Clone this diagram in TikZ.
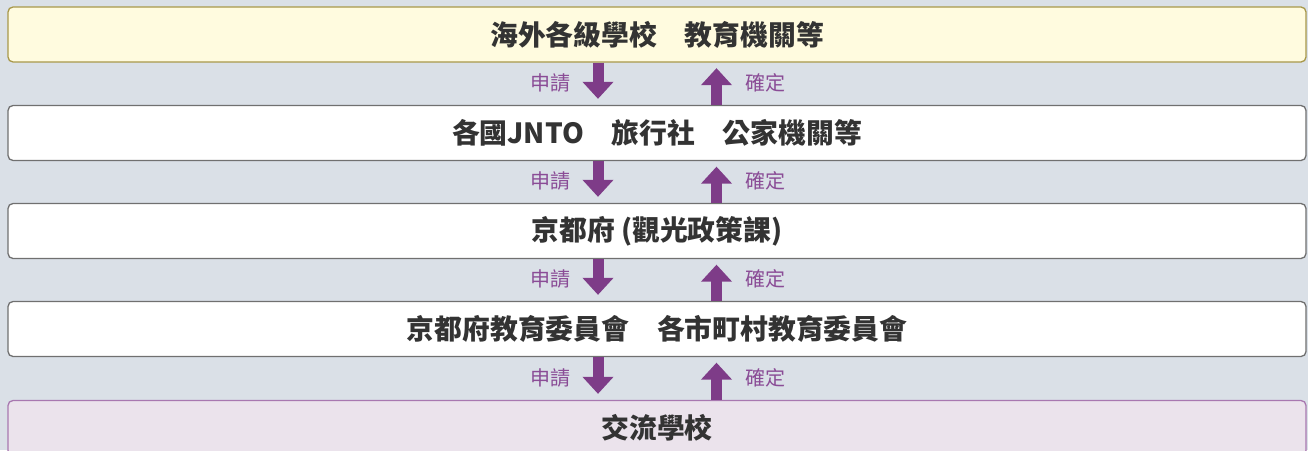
\documentclass[tikz,border=0pt]{standalone}
\usepackage{fontspec}
\newfontfamily\cjk{Noto Sans CJK TC}
\usetikzlibrary{arrows.meta,calc}
\definecolor{bgc}{HTML}{DAE0E7}
\definecolor{topfill}{HTML}{FFFBDF}
\definecolor{topdraw}{HTML}{A8984A}
\definecolor{whdraw}{HTML}{707070}
\definecolor{botfill}{HTML}{EBE3EC}
\definecolor{botdraw}{HTML}{A878B0}
\definecolor{arrc}{HTML}{7E3C88}
\definecolor{labc}{HTML}{8A4C96}
\definecolor{txtc}{HTML}{333333}
\tikzset{
  box/.style={draw=whdraw, fill=white, line width=1.3pt, rounded corners=5pt,
    minimum width=1298pt, minimum height=55pt, inner sep=0pt,
    font=\cjk\bfseries\fontsize{27.8}{32}\selectfont, text=txtc},
  topbox/.style={box, draw=topdraw, fill=topfill},
  botbox/.style={box, draw=botdraw, fill=botfill},
  flow/.style={line width=11pt, draw=arrc, -{Triangle[width=30pt,length=17pt]}},
  lab/.style={font=\cjk\fontsize{20}{23}\selectfont, text=labc, inner sep=0pt}
}
\begin{document}
\begin{tikzpicture}[x=1pt,y=-1pt]
\useasboundingbox (0,0) rectangle (1308,450);
\fill[bgc] (0,0) rectangle (1308,450);
\node[topbox] (b1) at (657,34.5) {海外各級學校　教育機關等};
\node[box] (b2) at (657,133) {各國JNTO　旅行社　公家機關等};
\node[box] (b3) at (657,231) {京都府 (觀光政策課)};
\node[box] (b4) at (657,329) {京都府教育委員會　各市町村教育委員會};
\node[botbox] (b5) at (657,428) {交流學校};
\foreach \a/\b in {b1/b2,b2/b3,b3/b4,b4/b5}{
  \draw[flow, shorten >=6pt] (598,0 |- \a.south) -- (598,0 |- \b.north);
  \draw[flow, shorten >=5.5pt] (716.5,0 |- \b.north) -- (716.5,0 |- \a.south);
  \path (\a.south) -- coordinate[pos=0.48] (m) (\b.north);
  \node[lab] at (550,0 |- m) {申請};
  \node[lab] at (765,0 |- m) {確定};
}
\end{tikzpicture}
\end{document}
